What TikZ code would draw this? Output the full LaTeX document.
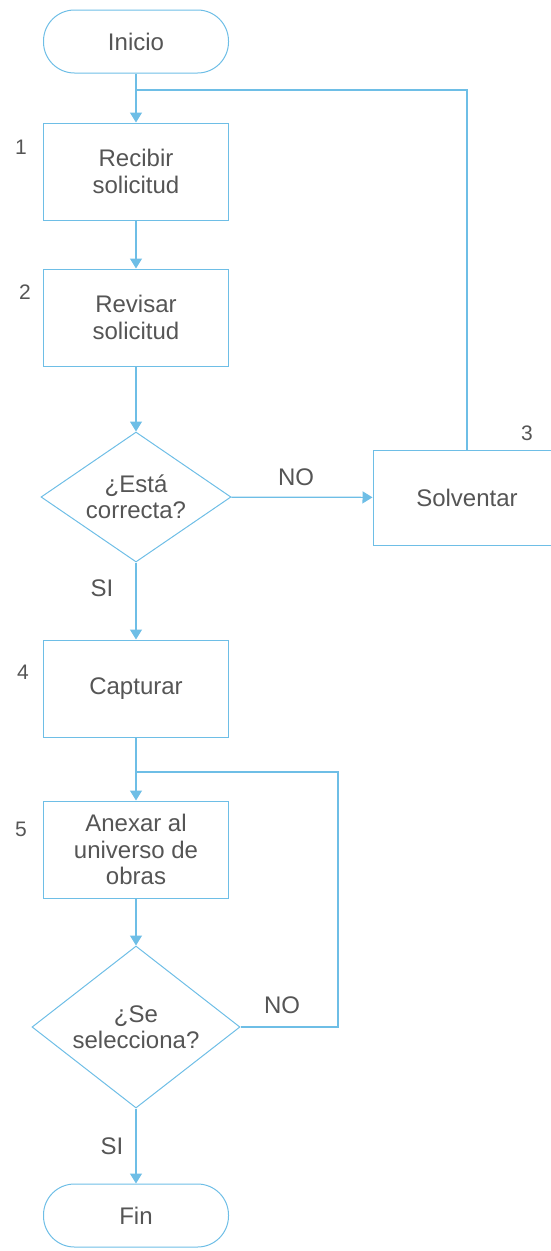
\documentclass[tikz,border=0pt]{standalone}
\usepackage{fontspec}
\setmainfont{Liberation Sans}
\usetikzlibrary{shapes.geometric,arrows.meta}
\definecolor{flujo}{RGB}{110,190,230}
\definecolor{texto}{RGB}{85,85,85}

\begin{document}
\begin{tikzpicture}[x=1pt,y=-1pt,font=\fontsize{24}{26.5}\selectfont,
    caja/.style={draw=flujo,line width=1pt,minimum width=185pt,minimum height=97pt,align=center,text=texto},
    term/.style={draw=flujo,line width=1pt,rounded corners=31pt,minimum width=185pt,minimum height=63pt,text=texto},
    decision/.style={draw=flujo,line width=1pt,diamond,aspect=1.46,inner sep=0pt,align=center,text=texto},
    flecha/.style={draw=flujo,line width=1.2pt,-{Triangle[length=10pt,width=12pt]}},
    linea/.style={draw=flujo,line width=1.2pt},
    etiq/.style={text=texto},
    num/.style={text=texto,font=\fontsize{21}{24}\selectfont}]
  \useasboundingbox (0,0) rectangle (550,1251);
  \node[term] (inicio) at (136,41.5) {Inicio};
  \node[caja] (recibir) at (136,171.5) {Recibir\\solicitud};
  \node[caja] (revisar) at (136,317.5) {Revisar\\solicitud};
  \node[decision,minimum width=190pt,minimum height=130pt] (correcta) at (136,497) {¿Está\\correcta?};
  \node[caja,minimum width=188pt,minimum height=95pt] (solventar) at (467,497.5) {Solventar};
  \node[caja] (capturar) at (136,688.5) {Capturar};
  \node[caja] (anexar) at (136,849.5) {Anexar al\\universo de\\obras};
  \node[decision,aspect=1.28,minimum width=208pt,minimum height=162pt] (selecciona) at (136,1027) {¿Se\\selecciona?};
  \node[term] (fin) at (136,1215.5) {Fin};
  \coordinate (j1) at (136,90);
  \coordinate (j2) at (136,772);
  \coordinate (k2) at (338,772);
  \draw[flecha] (inicio) -- (recibir);
  \draw[flecha] (recibir) -- (revisar);
  \draw[flecha] (revisar) -- (correcta);
  \draw[flecha] (correcta) -- (solventar);
  \draw[linea] (solventar.north) |- (j1);
  \draw[flecha] (correcta) -- (capturar);
  \draw[flecha] (capturar) -- (anexar);
  \draw[flecha] (anexar) -- (selecciona);
  \draw[linea] (selecciona.east) -| (k2) -- (j2);
  \draw[flecha] (selecciona) -- (fin);
  \node[etiq] (no1) at (296,477) {NO};
  \node[etiq] (si1) at (102,588) {SI};
  \node[etiq] (no2) at (282,1005) {NO};
  \node[etiq] (si2) at (112,1146) {SI};
  \node[num] (n1) at (21,147) {1};
  \node[num] (n2) at (25,292) {2};
  \node[num] (n3) at (527,433) {3};
  \node[num] (n4) at (23,672) {4};
  \node[num] (n5) at (21,829) {5};
\end{tikzpicture}
\end{document}
